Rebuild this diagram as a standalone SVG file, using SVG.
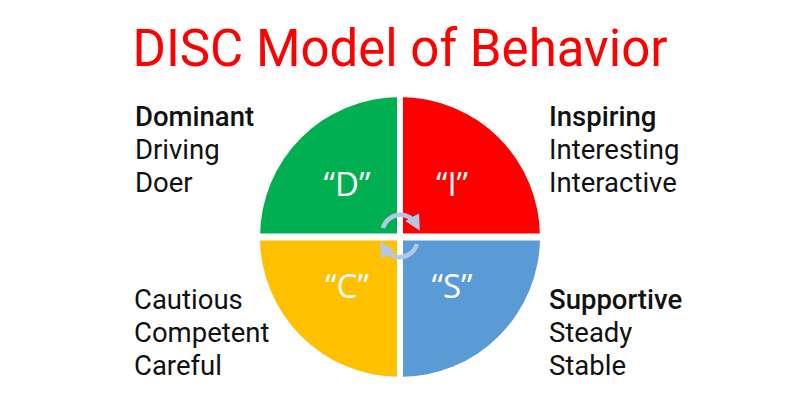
<svg xmlns="http://www.w3.org/2000/svg" width="800" height="400" viewBox="0 0 800 400">
<style>
.title{font-family:Roboto,"Liberation Sans",sans-serif;font-size:51px;fill:#ff0000}
.lbl{font-family:Roboto,"Liberation Sans",sans-serif;font-size:27.5px;fill:#111}
.b{font-weight:500}
.q{font-family:"Open Sans","Noto Sans",sans-serif;font-size:33px;fill:#fff;text-anchor:middle}
.arr{fill:none;stroke:#b4c7e7;stroke-width:4.5}
</style>
<defs>
<marker id="ah" viewBox="0 0 10 10" refX="5" refY="5" markerWidth="3.5" markerHeight="3.5" orient="auto" markerUnits="strokeWidth">
<path d="M0,0 L10,5 L0,10 z" fill="#b4c7e7"/>
</marker>
</defs>
<rect width="800" height="400" fill="#fff"/>
<text class="title" x="400" y="66" text-anchor="middle">DISC Model of Behavior</text>
<g id="D">
<path d="M400,237 L260,237 A140,140 0 0 1 400,97 Z" fill="#00b050"/>
<text class="q" x="347" y="196">“D”</text>
</g>
<g id="I">
<path d="M400,237 L400,97 A140,140 0 0 1 540,237 Z" fill="#ff0000"/>
<text class="q" x="452" y="196">“I”</text>
</g>
<g id="C">
<path d="M400,237 L400,377 A140,140 0 0 1 260,237 Z" fill="#ffc000"/>
<text class="q" x="347" y="298">“C”</text>
</g>
<g id="S">
<path d="M400,237 L540,237 A140,140 0 0 1 400,377 Z" fill="#5b9bd5"/>
<text class="q" x="452" y="298">“S”</text>
</g>
<g id="cross">
<line x1="400" y1="90" x2="400" y2="385" stroke="#fff" stroke-width="6"/>
<line x1="250" y1="237" x2="550" y2="237" stroke="#fff" stroke-width="7"/>
</g>
<g id="connectors">
<path class="arr" d="M383,228 A18,18 0 0 1 416,224" marker-end="url(#ah)"/>
<path class="arr" d="M417,244 A18,18 0 0 1 384,248" marker-end="url(#ah)"/>
</g>
<g id="dominant">
<text class="lbl b" x="135" y="126">Dominant</text>
<text class="lbl" x="135" y="159">Driving</text>
<text class="lbl" x="135" y="192">Doer</text>
</g>
<g id="inspiring">
<text class="lbl b" x="549" y="126">Inspiring</text>
<text class="lbl" x="549" y="159">Interesting</text>
<text class="lbl" x="549" y="192">Interactive</text>
</g>
<g id="cautious">
<text class="lbl" x="134" y="309">Cautious</text>
<text class="lbl" x="134" y="342">Competent</text>
<text class="lbl" x="134" y="375">Careful</text>
</g>
<g id="supportive">
<text class="lbl b" x="549" y="309">Supportive</text>
<text class="lbl" x="549" y="342">Steady</text>
<text class="lbl" x="549" y="375">Stable</text>
</g>
</svg>
